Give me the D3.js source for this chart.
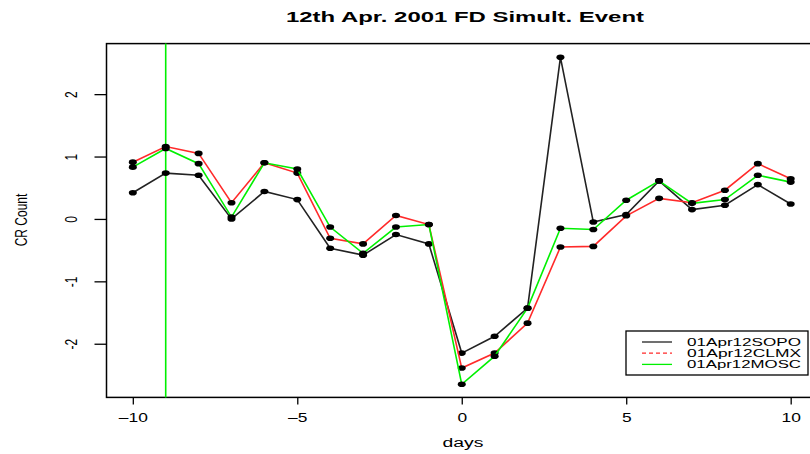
<!DOCTYPE html>
<html>
<head>
<meta charset="utf-8">
<script src="https://cdn.jsdelivr.net/npm/d3@7"></script>
<style>
  body { margin: 0; background: #fff; }
  text { font-family: "Liberation Sans", Arial, sans-serif; fill: #000; }
</style>
</head>
<body>
<svg id="chart" width="810" height="454"></svg>
<script>
// values
const days = [-10, -9, -8, -7, -6, -5, -4, -3, -2, -1, 0, 1, 2, 3, 4, 5, 6, 7, 8, 9, 10]
const sopo = [0.42, 0.735, 0.70, 0.0, 0.44, 0.31, -0.47, -0.58, -0.25, -0.40, -2.15, -1.88, -1.43, 2.59, -0.05, 0.07, 0.61, 0.15, 0.22, 0.55, 0.24]
const clmx = [0.91, 1.16, 1.05, 0.26, 0.90, 0.735, -0.31, -0.40, 0.056, -0.09, -2.39, -2.15, -1.67, -0.45, -0.44, 0.05, 0.33, 0.26, 0.46, 0.886, 0.645]
const mosc = [0.83, 1.13, 0.886, 0.03, 0.90, 0.80, -0.13, -0.55, -0.13, -0.09, -2.65, -2.2, -1.43, -0.15, -0.17, 0.30, 0.61, 0.25, 0.31, 0.70, 0.59]
const seriesNames = ['01Apr12SOPO', '01Apr12CLMX', '01Apr12MOSC']
const xTicks = [-10, -5, 0, 5, 10]
const yTicks = [-2, -1, 0, 1, 2]
const eventDay = -9

const svg = d3.select('#chart')
const stretch = 1.45 // the picture is drawn wide, glyphs look stretched

const x = d3.scaleLinear().domain([-10.8, 10.8]).range([106.5, 817])
const y = d3.scaleLinear().domain([-2.86, 2.81]).range([397.4, 43.6])

const series = [
  { name: seriesNames[0], values: sopo, color: '#222', dash: null },
  { name: seriesNames[1], values: clmx, color: '#ff2a2a', dash: '4,3' },
  { name: seriesNames[2], values: mosc, color: '#00f000', dash: null }
]

// title
svg.append('text')
  .attr('x', 465)
  .attr('y', 22)
  .attr('text-anchor', 'middle')
  .attr('textLength', 358)
  .attr('lengthAdjust', 'spacingAndGlyphs')
  .style('font-size', '14px')
  .style('font-weight', 'bold')
  .text('12th Apr. 2001 FD Simult. Event')

// axes
const xAxis = svg.append('g')
  .attr('transform', `translate(0, ${y.range()[0]})`)
  .call(d3.axisBottom(x).tickValues(xTicks).tickSize(7).tickPadding(0)
    .tickFormat(d => d < 0 ? '\u2013' + Math.abs(d) : d))
xAxis.select('.domain').remove()
xAxis.selectAll('line').attr('stroke', '#000').attr('stroke-width', 1.3)
xAxis.selectAll('text')
  .attr('y', 0).attr('dy', 0)
  .attr('transform', `translate(0, 25) scale(${stretch},1)`)
  .style('font-size', '12px')
  .style('font-family', '"Liberation Sans", Arial, sans-serif')
  .attr('fill', '#000')

const yAxis = svg.append('g')
  .attr('transform', `translate(${x.range()[0]}, 0)`)
  .call(d3.axisLeft(y).tickValues(yTicks).tickSize(12)
    .tickFormat(d => d < 0 ? '-' + Math.abs(d) : d))
yAxis.select('.domain').remove()
yAxis.selectAll('line').attr('stroke', '#000').attr('stroke-width', 1.3)
yAxis.selectAll('text')
  .attr('x', 0).attr('dy', '0.35em')
  .attr('text-anchor', 'middle')
  .attr('transform', `translate(-36, 0) scale(${stretch},1) rotate(-90)`)
  .style('font-size', '12px')
  .style('font-family', '"Liberation Sans", Arial, sans-serif')
  .attr('fill', '#000')

// axis titles
svg.append('text')
  .attr('x', 463)
  .attr('y', 447)
  .attr('text-anchor', 'middle')
  .attr('textLength', 41)
  .attr('lengthAdjust', 'spacingAndGlyphs')
  .style('font-size', '12px')
  .text('days')

svg.append('text')
  .attr('transform', `translate(21, 220) scale(${stretch},1) rotate(-90)`)
  .attr('text-anchor', 'middle')
  .attr('dy', '0.35em')
  .style('font-size', '12px')
  .text('CR Count')

// plot box
svg.append('rect')
  .attr('x', x.range()[0])
  .attr('y', y.range()[1])
  .attr('width', x.range()[1] - x.range()[0])
  .attr('height', y.range()[0] - y.range()[1])
  .attr('fill', 'none')
  .attr('stroke', '#000')
  .attr('stroke-width', 1.5)

// event marker
svg.append('line')
  .attr('x1', x(eventDay)).attr('x2', x(eventDay))
  .attr('y1', y.range()[1]).attr('y2', y.range()[0])
  .attr('stroke', '#00f000')
  .attr('stroke-width', 1.6)

const line = d3.line()
  .x((d, i) => x(days[i]))
  .y(d => y(d))

series.forEach(s => {
  svg.append('path')
    .datum(s.values)
    .attr('d', line)
    .attr('fill', 'none')
    .attr('stroke', s.color)
    .attr('stroke-width', 1.6)

  svg.append('g')
    .selectAll('ellipse')
    .data(s.values)
    .enter()
    .append('ellipse')
    .attr('cx', (d, i) => x(days[i]))
    .attr('cy', d => y(d))
    .attr('rx', 4)
    .attr('ry', 2.8)
    .attr('fill', '#000')
})

// legend
const legend = svg.append('g')
legend.append('rect')
  .attr('x', 626).attr('y', 331)
  .attr('width', 182).attr('height', 44)
  .attr('fill', '#fff')
  .attr('stroke', '#000')
  .attr('stroke-width', 1.3)

legend.selectAll('line')
  .data(series)
  .enter()
  .append('line')
  .attr('x1', 642).attr('x2', 672)
  .attr('y1', (d, i) => 342 + i * 11.2)
  .attr('y2', (d, i) => 342 + i * 11.2)
  .attr('stroke', d => d.color)
  .attr('stroke-width', 1.3)
  .attr('stroke-dasharray', d => d.dash)

legend.selectAll('text')
  .data(series)
  .enter()
  .append('text')
  .attr('x', 687)
  .attr('y', (d, i) => 342 + i * 11.2)
  .attr('dy', '0.35em')
  .attr('textLength', 114)
  .attr('lengthAdjust', 'spacingAndGlyphs')
  .style('font-size', '11.5px')
  .text(d => d.name)
</script>
</body>
</html>
